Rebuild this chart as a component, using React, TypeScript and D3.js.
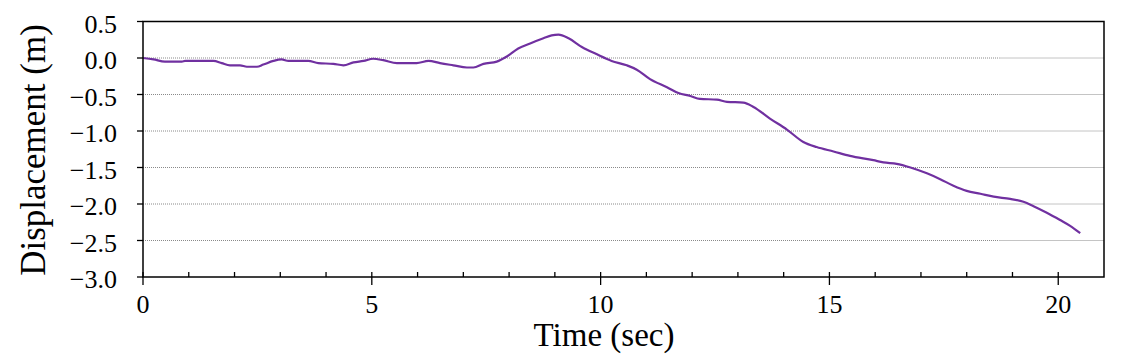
import React, { useEffect, useRef } from 'react';
import * as d3 from 'd3';

// time (sec) and displacement (m)
const timeSec: number[] = [
  0, 0.23, 0.48, 0.85, 0.92, 1.54, 1.72, 1.9, 2.12, 2.27, 2.49, 2.63, 2.85, 3.03, 3.18,
  3.61, 3.83, 4.16, 4.38, 4.6, 4.82, 5.03, 5.25, 5.55, 5.98, 6.24, 6.49, 6.78, 7.08, 7.22,
  7.44, 7.73, 7.95, 8.2, 8.46, 8.75, 8.93, 9.08, 9.3, 9.59, 9.92, 10.24, 10.57, 10.79,
  11.08, 11.45, 11.7, 11.96, 12.17, 12.54, 12.76, 13.12, 13.34, 13.7, 14.07, 14.43, 14.72,
  15.09, 15.45, 15.96, 16.18, 16.47, 16.77, 17.13, 17.42, 17.71, 18.0, 18.3, 18.59, 18.95,
  19.24, 19.46, 19.75, 20.04, 20.26, 20.48,
];
const displacement: number[] = [
  0, -0.02, -0.05, -0.05, -0.04, -0.04, -0.07, -0.1, -0.1, -0.12, -0.12, -0.09, -0.04, -0.02, -0.04,
  -0.04, -0.07, -0.08, -0.1, -0.06, -0.04, -0.01, -0.03, -0.07, -0.07, -0.04, -0.07, -0.1, -0.13, -0.13,
  -0.08, -0.05, 0.02, 0.13, 0.2, 0.27, 0.31, 0.32, 0.27, 0.15, 0.05, -0.04, -0.1, -0.16,
  -0.29, -0.4, -0.48, -0.52, -0.56, -0.57, -0.6, -0.61, -0.67, -0.83, -0.98, -1.15, -1.22,
  -1.28, -1.34, -1.4, -1.43, -1.45, -1.5, -1.58, -1.66, -1.75, -1.82, -1.86, -1.9, -1.93,
  -1.97, -2.03, -2.12, -2.22, -2.3, -2.4,
];

const xTicks = [0, 5, 10, 15, 20];
const yTicks = [0.5, 0.0, -0.5, -1.0, -1.5, -2.0, -2.5, -3.0];
const gridValues = [0.0, -0.5, -1.0, -1.5, -2.0, -2.5];

const W = 1134;
const H = 359;
const SERIF = "'Liberation Serif', 'Times New Roman', serif";

const App: React.FC = () => {
  const svgRef = useRef<SVGSVGElement>(null);

  useEffect(() => {
    document.body.style.margin = '0';
    if (!svgRef.current) return;
    const svg = d3.select(svgRef.current);
    svg.selectAll('*').remove();

    const left = 143, right = 1104, top = 21.5, bottom = 277;
    const x = d3.scaleLinear().domain([0, 21]).range([left, right]);
    const y = d3.scaleLinear().domain([-3, 0.5]).range([bottom, top]);

    // gridlines: dotted, then solid light grey near the right end
    const gridSplit = x(18.72);
    gridValues.forEach(v => {
      svg.append('line')
        .attr('x1', left).attr('x2', gridSplit)
        .attr('y1', y(v)).attr('y2', y(v))
        .attr('stroke', '#8a8a8a').attr('stroke-width', 1)
        .attr('stroke-dasharray', '1,1');
      svg.append('line')
        .attr('x1', gridSplit).attr('x2', right)
        .attr('y1', y(v)).attr('y2', y(v))
        .attr('stroke', '#c4c4c4').attr('stroke-width', 1);
    });

    // data line
    const pts = timeSec.map((t, i) => [t, displacement[i]] as [number, number]);
    const line = d3.line<[number, number]>()
      .x(d => x(d[0]))
      .y(d => y(d[1]))
      .curve(d3.curveMonotoneX);
    svg.append('path')
      .attr('d', line(pts)!)
      .attr('fill', 'none')
      .attr('stroke', '#7030A0')
      .attr('stroke-width', 2.2);

    // frame
    svg.append('rect')
      .attr('x', left).attr('y', top)
      .attr('width', right - left).attr('height', bottom - top)
      .attr('fill', 'none').attr('stroke', '#000').attr('stroke-width', 1.5);

    // x minor ticks (inside)
    d3.range(1, 21).filter(v => v % 5 !== 0).forEach(v => {
      svg.append('line')
        .attr('x1', x(v)).attr('x2', x(v))
        .attr('y1', bottom).attr('y2', bottom - 5)
        .attr('stroke', '#000').attr('stroke-width', 1.3);
    });
    // x major ticks (cross the axis)
    xTicks.forEach(v => {
      svg.append('line')
        .attr('x1', x(v)).attr('x2', x(v))
        .attr('y1', bottom - 5).attr('y2', bottom + 8)
        .attr('stroke', '#000').attr('stroke-width', 1.3);
      svg.append('text')
        .attr('x', x(v)).attr('y', 313)
        .attr('text-anchor', 'middle')
        .style('font-family', SERIF)
        .style('font-size', '26px')
        .attr('fill', '#000')
        .text(v);
    });

    // y ticks (outside)
    yTicks.forEach(v => {
      svg.append('line')
        .attr('x1', left - 6).attr('x2', left)
        .attr('y1', y(v)).attr('y2', y(v))
        .attr('stroke', '#000').attr('stroke-width', 1.3);
      svg.append('text')
        .attr('x', 117).attr('y', y(v) + 11)
        .attr('text-anchor', 'end')
        .style('font-family', SERIF)
        .style('font-size', '26px')
        .attr('fill', '#000')
        .text((v < 0 ? '\u2212' : '') + Math.abs(v).toFixed(1));
    });

    // axis titles
    svg.append('text')
      .attr('x', 604).attr('y', 346)
      .attr('text-anchor', 'middle')
      .style('font-family', SERIF)
      .style('font-size', '33px')
      .attr('fill', '#000')
      .text('Time (sec)');
    svg.append('text')
      .attr('transform', 'translate(45,150) rotate(-90)')
      .attr('text-anchor', 'middle')
      .style('font-family', SERIF)
      .style('font-size', '35px')
      .attr('fill', '#000')
      .text('Displacement (m)');
  }, []);

  return <svg ref={svgRef} width={W} height={H} style={{ display: 'block', background: '#fff' }} />;
};

export default App;
